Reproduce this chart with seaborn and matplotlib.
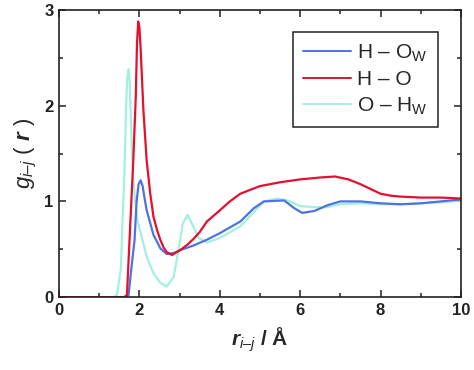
"""
Radial distribution functions g_ij(r) for H-Ow, H-O and O-Hw pairs.
"""
import matplotlib
matplotlib.use("Agg")
import matplotlib.pyplot as plt
import seaborn as sns
import pandas as pd
from matplotlib.ticker import MultipleLocator

# H - Ow
r_h_ow = [0, 1.65, 1.73, 1.8, 1.88, 1.93, 1.98, 2.03, 2.08, 2.13, 2.18, 2.35, 2.52, 2.68,
          2.85, 3.01, 3.35, 3.68, 4.01, 4.51, 4.85, 5.1, 5.6, 5.85, 6.05, 6.35, 6.68,
          7.0, 7.5, 8.0, 8.5, 9.0, 9.5, 10.0]
g_h_ow = [0, 0, 0.02, 0.3, 0.6, 1.0, 1.18, 1.22, 1.16, 1.03, 0.91, 0.65, 0.51, 0.45,
          0.46, 0.49, 0.54, 0.60, 0.67, 0.79, 0.93, 1.0, 1.01, 0.93, 0.88, 0.90, 0.96,
          1.0, 1.0, 0.98, 0.97, 0.98, 1.0, 1.02]

# H - O
r_h_o = [0, 1.62, 1.69, 1.75, 1.85, 1.91, 1.94, 1.97, 2.0, 2.03, 2.1, 2.18, 2.27, 2.35,
         2.44, 2.52, 2.6, 2.68, 2.81, 3.01, 3.2, 3.35, 3.5, 3.68, 4.01, 4.25, 4.51,
         4.75, 5.0, 5.5, 6.0, 6.5, 6.87, 7.2, 7.5, 7.75, 8.0, 8.25, 8.5, 9.0, 9.5, 10.0]
g_h_o = [0, 0, 0.02, 0.56, 1.45, 2.1, 2.65, 2.88, 2.82, 2.6, 1.95, 1.43, 1.08, 0.84,
         0.70, 0.60, 0.52, 0.47, 0.44, 0.49, 0.55, 0.61, 0.68, 0.79, 0.91, 1.0, 1.08,
         1.12, 1.16, 1.2, 1.23, 1.25, 1.26, 1.23, 1.18, 1.13, 1.08, 1.06, 1.05, 1.04,
         1.04, 1.03]

# O - Hw
r_o_hw = [0, 1.35, 1.44, 1.54, 1.58, 1.62, 1.67, 1.70, 1.73, 1.76, 1.78, 1.81, 1.85,
          1.95, 2.1, 2.18, 2.35, 2.52, 2.68, 2.85, 2.96, 3.08, 3.2, 3.35, 3.47, 3.68,
          4.01, 4.51, 4.85, 5.1, 5.43, 5.68, 6.01, 6.35, 6.68, 7.0, 7.5, 8.0, 8.5, 9.0,
          9.5, 10.0]
g_o_hw = [0, 0, 0.02, 0.3, 0.8, 1.2, 2.0, 2.3, 2.38, 2.25, 1.95, 1.6, 1.2, 0.8, 0.56,
          0.42, 0.25, 0.15, 0.11, 0.21, 0.46, 0.77, 0.86, 0.73, 0.62, 0.57, 0.62, 0.74,
          0.89, 1.0, 1.03, 1.01, 0.95, 0.94, 0.94, 0.97, 0.98, 0.97, 0.97, 0.98, 0.99,
          1.01]

labels = [r"H – O$_\mathrm{W}$", "H – O", r"O – H$_\mathrm{W}$"]
colors = ["#4f72e3", "#e3102e", "#a3f0e0"]

sns.set_style("ticks")
plt.rcParams["font.family"] = ["Liberation Sans", "DejaVu Sans"]
plt.rcParams["mathtext.fontset"] = "custom"
plt.rcParams["mathtext.rm"] = "Liberation Sans"
plt.rcParams["mathtext.it"] = "Liberation Sans:italic"
plt.rcParams["mathtext.bf"] = "Liberation Sans:bold"
plt.rcParams["mathtext.bfit"] = "Liberation Sans:italic:bold"

fig = plt.figure(figsize=(4.74, 3.70), dpi=100)
ax = fig.add_axes([0.1245, 0.197, 0.848, 0.776])

series = [(r_h_ow, g_h_ow), (r_h_o, g_h_o), (r_o_hw, g_o_hw)]
for (r, g), lab, col in zip(series, labels, colors):
    df = pd.DataFrame({"r": r, "g": g})
    sns.lineplot(data=df, x="r", y="g", ax=ax, color=col, lw=1.6, label=lab)

# cyan sits beneath the other two curves
ax.lines[2].set_zorder(1.5)

ax.set_xlim(0, 10)
ax.set_ylim(0, 3)
ax.xaxis.set_major_locator(MultipleLocator(2))
ax.xaxis.set_minor_locator(MultipleLocator(1))
ax.yaxis.set_major_locator(MultipleLocator(1))
ax.yaxis.set_minor_locator(MultipleLocator(0.5))
ax.tick_params(which="both", direction="in", top=True, right=True, width=1.1,
               color="#222222")
ax.tick_params(which="major", length=5, labelsize=12, pad=4)
ax.tick_params(which="minor", length=3)
for t in ax.get_xticklabels() + ax.get_yticklabels():
    t.set_fontweight("bold")
    t.set_color("#222222")
for s in ax.spines.values():
    s.set_linewidth(1.2)
    s.set_color("#222222")

ax.set_xlabel(r"$\mathbfit{r}_{\mathit{i–j}}$ / Å", fontsize=15, fontweight="bold",
              labelpad=6)
ax.set_ylabel(r"$\mathit{g}_{\mathit{i–j}}$ ( $\mathbfit{r}$ )", fontsize=16, labelpad=4)

leg = ax.legend(loc="upper right", bbox_to_anchor=(0.943, 0.923), borderaxespad=0,
                fontsize=15, frameon=True, fancybox=False, edgecolor="#222222",
                framealpha=1, handlelength=2.3, handletextpad=0.3, borderpad=0.5,
                labelspacing=0.3)
leg.get_frame().set_linewidth(1.1)
for h in leg.get_lines():
    h.set_linewidth(1.4)

fig.savefig("out.png", dpi=100)
